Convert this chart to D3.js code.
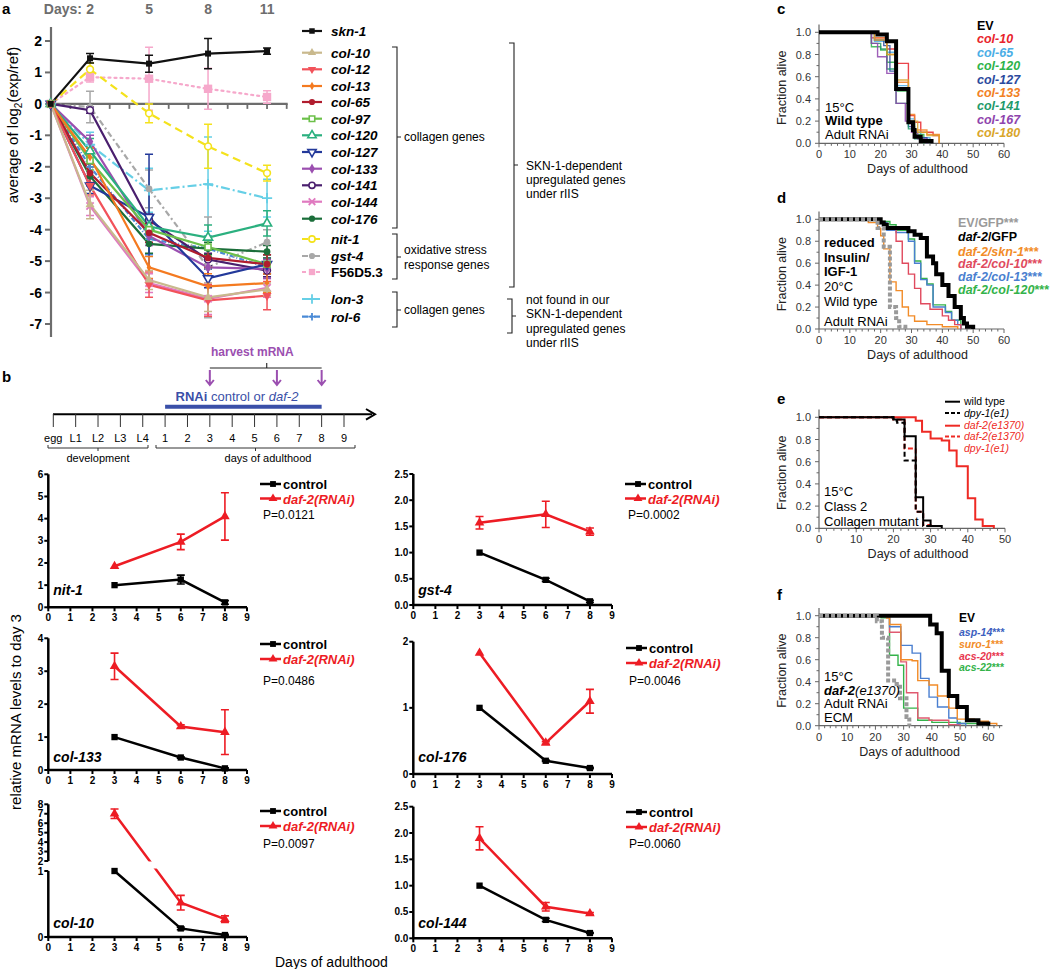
<!DOCTYPE html>
<html><head><meta charset="utf-8">
<script src="https://cdn.jsdelivr.net/npm/d3@7"></script>
<style>body{margin:0;background:#fff}svg{font-family:"Liberation Sans",Arial,Helvetica,sans-serif;display:block}</style>
</head><body><svg id="fig" width="1050" height="969"></svg>
<script>
// ======================= DATA =======================
// Panel a
const aDays = [0, 2, 5, 8, 11];
const aTopDays = [2, 5, 8, 11];
const aGenes = ["skn-1","col-10","col-12","col-13","col-65","col-97","col-120","col-127","col-133","col-141","col-144","col-176","nit-1","gst-4","F56D5.3","lon-3","rol-6"];
const aMeans = [
  [0, 1.45, 1.28, 1.6, 1.68],
  [0, -3.2, -5.6, -6.15, -5.9],
  [0, -2.6, -5.75, -6.25, -6.1],
  [0, -1.7, -5.2, -5.8, -5.7],
  [0, -2.2, -4.1, -4.9, -5.1],
  [0, -1.8, -4.0, -4.55, -5.1],
  [0, -1.5, -3.9, -4.25, -3.8],
  [0, -2.6, -3.6, -5.55, -5.1],
  [0, -1.2, -4.2, -5.2, -5.25],
  [0, -0.2, -3.7, -4.95, -5.3],
  [0, -3.25, -5.7, -6.2, -5.85],
  [0, -2.3, -4.45, -4.6, -4.7],
  [0, 1.1, -0.3, -1.35, -2.2],
  [0, -0.1, -2.7, -5.2, -4.4],
  [0, 0.85, 0.8, 0.48, 0.22],
  [0, -1.3, -2.75, -2.55, -3.0],
  [0, -2.0, -4.3, -4.6, -5.2]
];
const aErrs = [
  [0, 0.15, 0.27, 0.48, 0.1],
  [0, 0.45, 0.3, 0.45, 0.2],
  [0, 0.3, 0.4, 0.5, 0.45],
  [0, 0.3, 0.35, 0.4, 0.3],
  [0, 0.3, 0.3, 0.3, 0.3],
  [0, 0.3, 0.3, 0.3, 0.3],
  [0, 0.4, 0.25, 0.4, 0.4],
  [0, 0.25, 2.0, 0.3, 0.3],
  [0, 0.2, 0.3, 0.3, 0.3],
  [0, 0.1, 0.2, 0.2, 0.2],
  [0, 0.3, 0.3, 0.5, 0.3],
  [0, 0.3, 0.3, 0.2, 0.2],
  [0, 0.2, 0.3, 0.7, 0.25],
  [0, 0.5, 0.6, 1.6, 0.4],
  [0, 0.15, 1.0, 0.65, 0.2],
  [0, 0.4, 0.7, 1.5, 0.6],
  [0, 0.3, 0.5, 0.4, 0.3]
];
const aYTicks = [2, 1, 0, -1, -2, -3, -4, -5, -6, -7];

// Panel b schematic
const bStages = ["egg","L1","L2","L3","L4","1","2","3","4","5","6","7","8","9"];
const bHarvest = ["3","6","8"];
const bRnaiRange = ["1","8"];

// Panel b qPCR
const bDays = [3, 6, 8];
const bXTicks = [0,1,2,3,4,5,6,7,8,9];
const nit1Ctrl = [1.0, 1.25, 0.22], nit1CtrlErr = [0, 0.2, 0.08];
const nit1Daf = [1.85, 2.95, 4.1],  nit1DafErr = [0, 0.35, 1.07];
const gst4Ctrl = [1.0, 0.48, 0.07], gst4CtrlErr = [0, 0.03, 0.02];
const gst4Daf = [1.57, 1.73, 1.4],  gst4DafErr = [0.12, 0.25, 0.07];
const col133Ctrl = [1.0, 0.38, 0.05], col133CtrlErr = [0, 0.02, 0.02];
const col133Daf = [3.15, 1.32, 1.15], col133DafErr = [0.4, 0.05, 0.68];
const col176Ctrl = [1.0, 0.2, 0.09], col176CtrlErr = [0, 0.01, 0.01];
const col176Daf = [1.83, 0.47, 1.1], col176DafErr = [0, 0.02, 0.18];
const col10Ctrl = [1.0, 0.13, 0.03], col10CtrlErr = [0, 0.02, 0.01];
const col10Daf = [7.0, 0.52, 0.27],  col10DafErr = [0.5, 0.11, 0.05];
const col144Ctrl = [1.0, 0.35, 0.1], col144CtrlErr = [0, 0.03, 0.01];
const col144Daf = [1.9, 0.6, 0.47],  col144DafErr = [0.22, 0.08, 0.02];
const pVals = ["P=0.0121","P=0.0002","P=0.0486","P=0.0046","P=0.0097","P=0.0060"];

// Survival curves [day, fraction alive]
const survYTicks = [0, 0.2, 0.4, 0.6, 0.8, 1.0];
const cNames = ["EV","col-10","col-65","col-120","col-127","col-133","col-141","col-167","col-180"];
const cEV     = [[0,1],[19,0.98],[22,0.92],[25,0.49],[29,0.19],[30.5,0.12],[31,0.06],[33,0.02],[36.5,0]];
const cCol10  = [[0,1],[17,0.95],[22,0.85],[25,0.72],[29,0.25],[31,0.19],[33,0.1],[37,0.07],[39,0]];
const cCol65  = [[0,1],[18,0.92],[22,0.82],[25,0.52],[29,0.22],[31,0.1],[33,0.05],[36,0]];
const cCol120 = [[0,1],[17,0.87],[20,0.84],[22,0.73],[25,0.47],[29,0.2],[31,0.08],[34,0]];
const cCol127 = [[0,1],[18,0.93],[21,0.88],[23,0.65],[25,0.5],[29,0.15],[31,0.05],[35,0]];
const cCol133 = [[0,1],[18,0.95],[22,0.8],[25,0.55],[29,0.26],[31,0.12],[35,0.08],[39,0]];
const cCol141 = [[0,1],[17,0.9],[20,0.85],[22,0.67],[25,0.36],[29,0.13],[31,0.04],[34,0]];
const cCol167 = [[0,1],[17,0.9],[19,0.78],[22,0.63],[25,0.36],[28,0.2],[30,0.1],[32,0.04],[35,0]];
const cCol180 = [[0,1],[18,0.93],[22,0.8],[25,0.57],[29,0.2],[32,0.1],[35,0.07],[39,0]];

const dNames = ["EV/GFP***","daf-2/GFP","daf-2/skn-1***","daf-2/col-10***","daf-2/col-13***","daf-2/col-120***"];
const dEV     = [[0,1],[19,0.92],[21,0.75],[23,0.2],[25,0.1],[26,0.02],[28,0]];
const dDaf2   = [[0,1],[20,0.97],[21,0.95],[22,0.92],[29,0.89],[31,0.86],[33,0.83],[35,0.66],[37,0.6],[38,0.5],[40,0.4],[42,0.3],[44,0.2],[46,0.1],[47,0.05],[48,0.02],[50,0]];
const dSkn1   = [[0,1],[16,0.97],[19,0.92],[20,0.85],[21,0.73],[23,0.43],[25,0.35],[27,0.2],[29,0.12],[31,0.07],[35,0.04],[40,0.02],[45,0]];
const dCol10  = [[0,1],[19,0.97],[21,0.92],[25,0.8],[27,0.6],[29,0.5],[31,0.37],[33,0.23],[36,0.18],[40,0.12],[42,0.08],[44,0.04],[46,0]];
const dCol13  = [[0,1],[20,0.97],[22,0.9],[25,0.88],[29,0.8],[31,0.6],[33,0.45],[35,0.4],[37,0.2],[41,0.15],[43,0.08],[45,0.04],[46,0]];
const dCol120 = [[0,1],[20,0.98],[23,0.95],[25,0.9],[29,0.82],[31,0.62],[33,0.46],[35,0.41],[37,0.22],[41,0.16],[43,0.08],[46,0]];

const eNames = ["wild type","dpy-1(e1)","daf-2(e1370)","daf-2(e1370)","dpy-1(e1)"];
const eWT     = [[0,1],[20,0.98],[23,0.83],[26,0.28],[28,0.07],[30,0.02],[33,0]];
const eDpy    = [[0,1],[20,0.97],[21,0.95],[23,0.61],[26,0.15],[28,0.02],[30,0]];
const eDaf2   = [[0,1],[26,0.97],[27.7,0.87],[30,0.81],[33,0.79],[35,0.7],[37,0.56],[40,0.27],[42,0.08],[44,0.02],[47,0]];
const eDafDpy = [[0,1],[20,0.98],[23,0.72],[26,0.15],[28,0.03],[30,0]];

const fNames = ["EV","asp-14***","suro-1***","acs-20***","acs-22***"];
const fGray   = [[0,1],[20.5,0.95],[22.3,0.8],[24.5,0.41],[27.5,0.38],[28.7,0.25],[31,0.08],[32,0]];
const fEV     = [[0,1],[39.4,0.92],[41.7,0.84],[43.5,0.5],[46,0.27],[49,0.17],[52.4,0.05],[56.5,0.02],[60,0]];
const fAsp14  = [[0,1],[25,0.9],[29,0.73],[33,0.66],[36,0.43],[39,0.26],[42,0.17],[46,0.07],[49,0.02],[52,0]];
const fSuro1  = [[0,1],[24,0.98],[25,0.92],[29,0.6],[33,0.59],[35,0.41],[39,0.37],[42,0.27],[46,0.16],[49,0.06],[55,0.04],[60,0.02],[63,0]];
const fAcs20  = [[0,1],[24,0.98],[25,0.85],[29,0.58],[31,0.3],[35,0.07],[39,0.05],[46,0.01],[50,0]];
const fAcs22  = [[0,1],[22,0.98],[25,0.64],[28,0.55],[30,0.16],[35,0.05],[40,0.03],[50,0.02],[60,0]];

// ======================= DRAWING =======================
const svg = d3.select("#fig");
function T(g, x, y, s, o = {}) {
  return g.append("text").attr("x", x).attr("y", y).text(s)
    .attr("font-size", o.size || 12).attr("font-weight", o.weight || "normal")
    .attr("font-style", o.style || "normal").attr("fill", o.fill || "#000")
    .attr("text-anchor", o.anchor || "start");
}
function R(g, x, y, parts, o = {}) {
  const t = g.append("text").attr("x", x).attr("y", y).attr("font-size", o.size || 12)
    .attr("text-anchor", o.anchor || "start");
  parts.forEach(p => t.append("tspan").text(p[0]).attr("font-weight", p[1] || "normal")
    .attr("font-style", p[2] || "normal").attr("fill", p[3] || o.fill || "#000"));
  return t;
}
function panelLetter(x, y, s) { T(svg, x, y, s, {size: 15, weight: "bold"}); }

// ---------------- Panel a ----------------
(function () {
  const g = svg.append("g");
  panelLetter(2, 14, "a");
  const x = d3.scaleLinear().domain([0, 12]).range([50.7, 286.7]);
  const y = d3.scaleLinear().domain([2, -7]).range([41, 324]);
  const axc = "#6d6d6d";
  g.append("line").attr("x1", 51).attr("x2", 51).attr("y1", 27).attr("y2", 337).attr("stroke", axc).attr("stroke-width", 2.2);
  g.append("line").attr("x1", 50).attr("x2", x(12.05)).attr("y1", y(0)).attr("y2", y(0)).attr("stroke", axc).attr("stroke-width", 2.2);
  aYTicks.forEach(v => {
    g.append("line").attr("x1", 45).attr("x2", 51).attr("y1", y(v)).attr("y2", y(v)).attr("stroke", axc).attr("stroke-width", 2);
    T(g, 42, y(v) + 5, v, {size: 14, weight: "bold", anchor: "end"});
  });
  d3.range(1, 13).forEach(d => {
    g.append("line").attr("x1", x(d)).attr("x2", x(d)).attr("y1", y(0)).attr("y2", y(0) + 5).attr("stroke", axc).attr("stroke-width", 1.8);
  });
  T(g, 82, 14, "Days:", {size: 14, weight: "bold", fill: "#6d6d6d", anchor: "end"});
  aTopDays.forEach(d => T(g, x(d), 14, d, {size: 14, weight: "bold", fill: "#6d6d6d", anchor: "middle"}));
  g.append("text").attr("transform", "translate(18,125) rotate(-90)").attr("text-anchor", "middle")
    .attr("font-size", 15).call(t => {
      t.append("tspan").text("average of log");
      t.append("tspan").text("2").attr("font-size", 10).attr("dy", 4);
      t.append("tspan").text("(exp/ref)").attr("dy", -4);
    });

  const styles = [
    {c: "#111111", d: null, s: "square", f: true},
    {c: "#c9b98d", d: null, s: "triangle", f: true},
    {c: "#f2525a", d: null, s: "tridown", f: true},
    {c: "#f47a20", d: null, s: "diamond", f: true, sz: 20},
    {c: "#b01c2e", d: null, s: "circle", f: true},
    {c: "#6cc04a", d: null, s: "square", f: false},
    {c: "#2bb07f", d: null, s: "triangle", f: false},
    {c: "#23399a", d: null, s: "tridown", f: false},
    {c: "#9b4fb0", d: null, s: "diamond", f: true},
    {c: "#4a1f6e", d: null, s: "circle", f: false},
    {c: "#e07ac0", d: null, s: "times", f: false},
    {c: "#1b6e3a", d: null, s: "circle", f: true},
    {c: "#f4e21c", d: "8,5", s: "circle", f: false},
    {c: "#a8a8a8", d: "6,3,2,3", s: "circle", f: true},
    {c: "#f6a8cb", d: "2,4", s: "square", f: true, sz: 70},
    {c: "#66cfe6", d: "9,3,2,3", s: "plus", f: false},
    {c: "#4a8ad6", d: "5,2,1,2", s: "plus", f: false, sz: 20}
  ];
  const symMap = {square: d3.symbolSquare, triangle: d3.symbolTriangle, tridown: d3.symbolTriangle,
    diamond: d3.symbolDiamond, circle: d3.symbolCircle, times: d3.symbolTimes, plus: d3.symbolPlus};
  function marker(gg, px, py, st) {
    const p = gg.append("path").attr("d", d3.symbol(symMap[st.s], st.sz || 36)())
      .attr("transform", `translate(${px},${py})` + (st.s === "tridown" ? " rotate(180)" : ""));
    if (st.s === "times" || st.s === "plus") p.attr("fill", "none").attr("stroke", st.c).attr("stroke-width", 1.8);
    else if (st.f) p.attr("fill", st.c);
    else p.attr("fill", "#fff").attr("stroke", st.c).attr("stroke-width", 1.6);
  }
  const line = d3.line().x((d, i) => x(aDays[i])).y(d => y(d));
  const order = d3.range(aGenes.length).reverse();
  order.forEach(k => {
    const st = styles[k];
    g.append("path").datum(aMeans[k]).attr("d", line).attr("fill", "none").attr("stroke", st.c)
      .attr("stroke-width", 2.2).attr("stroke-dasharray", st.d).attr("stroke-linecap", st.d === "2,4" ? "round" : "butt");
    aMeans[k].forEach((v, i) => {
      const e = aErrs[k][i];
      if (e > 0) {
        const xx = x(aDays[i]);
        g.append("path").attr("d", `M${xx},${y(v + e)}V${y(v - e)}M${xx - 4},${y(v + e)}H${xx + 4}M${xx - 4},${y(v - e)}H${xx + 4}`)
          .attr("stroke", st.c).attr("stroke-width", 1.5).attr("fill", "none");
      }
    });
  });
  order.forEach(k => aMeans[k].forEach((v, i) => marker(g, x(aDays[i]), y(v), styles[k])));

  const rows = [31, 52.7, 69.3, 86, 102, 118.7, 135.3, 152, 168.7, 185.3, 201.7, 218.7, 239, 256, 272, 299, 316.7];
  aGenes.forEach((nm, k) => {
    const st = styles[k], yy = rows[k];
    g.append("line").attr("x1", 302).attr("x2", 322).attr("y1", yy).attr("y2", yy).attr("stroke", st.c)
      .attr("stroke-width", 2.2).attr("stroke-dasharray", st.d ? (st.d === "2,4" ? "4,3" : "6,2,2,2") : null);
    marker(g, 312, yy, Object.assign({}, st, {sz: Math.min(st.sz || 30, 40)}));
    T(g, 331, yy + 5, nm, {size: 13.5, weight: "bold", style: nm === "F56D5.3" ? "normal" : "italic"});
  });
  function bracket(bx, y1, y2, ym, w) {
    g.append("path").attr("d", `M${bx - w},${y1}H${bx}V${y2}H${bx - w}M${bx},${ym}H${bx + 4}`)
      .attr("fill", "none").attr("stroke", "#222").attr("stroke-width", 1.1);
  }
  bracket(397, 47, 228, 137, 5); T(g, 404, 141, "collagen genes", {size: 12});
  bracket(397, 234, 279, 257, 5); T(g, 404, 254, "oxidative stress", {size: 12}); T(g, 404, 269, "response genes", {size: 12});
  bracket(397, 292, 327, 310, 5); T(g, 404, 314, "collagen genes", {size: 12});
  bracket(514, 43, 287, 165, 5);
  ["SKN-1-dependent", "upregulated genes", "under rIIS"].forEach((s, i) => T(g, 526, 170 + 14.2 * i, s, {size: 12}));
  bracket(512, 299, 333, 316, 5);
  ["not found in our", "SKN-1-dependent", "upregulated genes", "under rIIS"].forEach((s, i) => T(g, 526, 304 + 14.4 * i, s, {size: 12}));
})();

// ---------------- Panel b schematic ----------------
(function () {
  const g = svg.append("g");
  panelLetter(2, 382, "b");
  const xs = d3.scalePoint().domain(bStages).range([53.3, 344]);
  const purple = "#9b4fb0", blue = "#3a4fa8";
  T(g, 211, 356, "harvest mRNA", {size: 12, weight: "bold", fill: purple});
  const hx = bHarvest.map(d => xs(d));
  g.append("path").attr("d", `M${hx[0]},${368}H${hx[2]}M${(hx[0] + hx[2]) / 2 + 1},368V363`).attr("stroke", "#222").attr("stroke-width", 1.1).attr("fill", "none");
  hx.forEach(xx => {
    g.append("path").attr("d", `M${xx},370V385M${xx - 4},380L${xx},385L${xx + 4},380`).attr("stroke", purple)
      .attr("stroke-width", 2).attr("fill", "none");
  });
  R(g, 237, 401, [["RNAi", "bold"], [" control or "], ["daf-2", "normal", "italic"]], {size: 13, fill: blue, anchor: "middle"});
  g.append("line").attr("x1", xs(bRnaiRange[0])).attr("x2", xs(bRnaiRange[1])).attr("y1", 406.7).attr("y2", 406.7)
    .attr("stroke", blue).attr("stroke-width", 4);
  g.append("line").attr("x1", 53).attr("x2", 372).attr("y1", 414.3).attr("y2", 414.3).attr("stroke", "#000").attr("stroke-width", 2);
  g.append("path").attr("d", "M366,409L375,414.3L366,419.6").attr("stroke", "#000").attr("stroke-width", 2).attr("fill", "none");
  bStages.forEach(s => {
    g.append("line").attr("x1", xs(s)).attr("x2", xs(s)).attr("y1", 414).attr("y2", 427).attr("stroke", "#333").attr("stroke-width", 1);
    T(g, xs(s), 442, s, {size: 11, anchor: "middle"});
  });
  function brace(x1, x2) {
    const m = (x1 + x2) / 2;
    g.append("path").attr("d", `M${x1},445V448H${x2}V445M${m},448V451`).attr("stroke", "#333").attr("stroke-width", 1).attr("fill", "none");
  }
  brace(48, 148); brace(156, 355);
  T(g, 98, 462, "development", {size: 11, anchor: "middle"});
  T(g, 268, 462, "days of adulthood", {size: 11, anchor: "middle"});
})();

// ---------------- Panel b qPCR subplots ----------------
const RED = "#ed1c24";
function subplot(cfg) {
  const g = svg.append("g");
  const x = d3.scaleLinear().domain([0, 9]).range(cfg.xr);
  const yf = cfg.yf;
  const x0 = cfg.xr[0];
  cfg.segments.forEach(seg => {
    g.append("line").attr("x1", x0).attr("x2", x0).attr("y1", yf(seg.lo)).attr("y2", yf(seg.hi)).attr("stroke", "#000").attr("stroke-width", 2.5);
    seg.ticks.forEach(v => {
      g.append("line").attr("x1", x0 - 4).attr("x2", x0).attr("y1", yf(v)).attr("y2", yf(v)).attr("stroke", "#000").attr("stroke-width", 2);
      T(g, x0 - 5, yf(v) + 3.5, cfg.fmt ? cfg.fmt(v) : v, {size: 10, weight: "bold", anchor: "end"});
    });
  });
  const yb = yf(0);
  g.append("line").attr("x1", x0 - 1).attr("x2", x(9)).attr("y1", yb).attr("y2", yb).attr("stroke", "#000").attr("stroke-width", 2.5);
  bXTicks.forEach(d => {
    g.append("line").attr("x1", x(d)).attr("x2", x(d)).attr("y1", yb).attr("y2", yb + 4).attr("stroke", "#000").attr("stroke-width", 2);
    T(g, x(d), yb + 14, d, {size: 10, weight: "bold", anchor: "middle"});
  });
  const line = d3.line().x((d, i) => x(bDays[i])).y(d => yf(d));
  g.append("path").datum(cfg.ctrl).attr("d", line).attr("fill", "none").attr("stroke", "#000").attr("stroke-width", 2.5);
  g.append("path").datum(cfg.daf).attr("d", line).attr("fill", "none").attr("stroke", RED).attr("stroke-width", 2.5);
  if (cfg.band) g.append("rect").attr("x", x0 + 3).attr("width", x(9) - x0).attr("y", cfg.band[0]).attr("height", cfg.band[1] - cfg.band[0]).attr("fill", "#fff");
  function errs(vals, es, col) {
    vals.forEach((v, i) => {
      const e = es[i]; if (!e) return;
      const xx = x(bDays[i]);
      g.append("path").attr("d", `M${xx},${yf(v + e)}V${yf(v - e)}M${xx - 4},${yf(v + e)}H${xx + 4}M${xx - 4},${yf(v - e)}H${xx + 4}`)
        .attr("stroke", col).attr("stroke-width", 1.6).attr("fill", "none");
    });
  }
  errs(cfg.ctrl, cfg.ctrlErr, "#000"); errs(cfg.daf, cfg.dafErr, RED);
  cfg.ctrl.forEach((v, i) => g.append("path").attr("d", d3.symbol(d3.symbolSquare, 40)()).attr("transform", `translate(${x(bDays[i])},${yf(v)})`).attr("fill", "#000"));
  cfg.daf.forEach((v, i) => g.append("path").attr("d", d3.symbol(d3.symbolTriangle, 40)()).attr("transform", `translate(${x(bDays[i])},${yf(v)})`).attr("fill", RED));
  T(g, x0 + 5, cfg.labelY, cfg.gene, {size: 14, weight: "bold", style: "italic"});
  const lx = cfg.legX, ly = cfg.legY;
  g.append("line").attr("x1", lx).attr("x2", lx + 21).attr("y1", ly).attr("y2", ly).attr("stroke", "#000").attr("stroke-width", 2.5);
  g.append("path").attr("d", d3.symbol(d3.symbolSquare, 34)()).attr("transform", `translate(${lx + 13},${ly})`).attr("fill", "#000");
  T(g, lx + 23, ly + 5, "control", {size: 13, weight: "bold"});
  g.append("line").attr("x1", lx).attr("x2", lx + 21).attr("y1", ly + cfg.legDy).attr("y2", ly + cfg.legDy).attr("stroke", RED).attr("stroke-width", 2.5);
  g.append("path").attr("d", d3.symbol(d3.symbolTriangle, 34)()).attr("transform", `translate(${lx + 13},${ly + cfg.legDy})`).attr("fill", RED);
  T(g, lx + 23, ly + cfg.legDy + 5, "daf-2(RNAi)", {size: 13, weight: "bold", style: "italic", fill: RED});
  T(g, lx + 3, ly + cfg.pDy, cfg.p, {size: 12});
}
const XL = [48.3, 247], XR = [413.3, 612];
const f1 = d3.format(".1f");
function lin(d, r) { return d3.scaleLinear().domain(d).range(r); }
{
  const s = lin([0, 6], [607.3, 474.3]);
  subplot({xr: XL, yf: s, segments: [{lo: 0, hi: 6, ticks: [0,1,2,3,4,5,6]}], ctrl: nit1Ctrl, ctrlErr: nit1CtrlErr, daf: nit1Daf, dafErr: nit1DafErr,
    gene: "nit-1", labelY: 595, legX: 260, legY: 484, legDy: 14.5, pDy: 35, p: pVals[0]});
}
{
  const s = lin([0, 2.5], [605, 474]);
  subplot({xr: XR, yf: s, fmt: f1, segments: [{lo: 0, hi: 2.5, ticks: [0,0.5,1,1.5,2,2.5]}], ctrl: gst4Ctrl, ctrlErr: gst4CtrlErr, daf: gst4Daf, dafErr: gst4DafErr,
    gene: "gst-4", labelY: 595, legX: 625, legY: 484, legDy: 14.5, pDy: 35, p: pVals[1]});
}
{
  const s = lin([0, 4], [770, 638.3]);
  subplot({xr: XL, yf: s, segments: [{lo: 0, hi: 4, ticks: [0,1,2,3,4]}], ctrl: col133Ctrl, ctrlErr: col133CtrlErr, daf: col133Daf, dafErr: col133DafErr,
    gene: "col-133", labelY: 762, legX: 260, legY: 644, legDy: 15, pDy: 41, p: pVals[2]});
}
{
  const s = lin([0, 2], [774, 641.7]);
  subplot({xr: XR, yf: s, segments: [{lo: 0, hi: 2, ticks: [0,1,2]}], ctrl: col176Ctrl, ctrlErr: col176CtrlErr, daf: col176Daf, dafErr: col176DafErr,
    gene: "col-176", labelY: 762, legX: 626, legY: 648, legDy: 15, pDy: 37, p: pVals[3]});
}
{
  const lo = lin([0, 1], [937, 871]), up = lin([2, 8], [861, 804.3]);
  const s = v => (v >= 1.5 ? up(v) : lo(v));
  subplot({xr: XL, yf: s, segments: [{lo: 0, hi: 1, ticks: [0, 1]}, {lo: 2, hi: 8, ticks: [2,3,4,5,6,7,8]}], band: [861.5, 868.5],
    ctrl: col10Ctrl, ctrlErr: col10CtrlErr, daf: col10Daf, dafErr: col10DafErr,
    gene: "col-10", labelY: 928, legX: 260, legY: 811, legDy: 15, pDy: 37, p: pVals[4]});
}
{
  const s = lin([0, 2.5], [938.3, 806.7]);
  subplot({xr: XR, yf: s, fmt: f1, segments: [{lo: 0, hi: 2.5, ticks: [0,0.5,1,1.5,2,2.5]}], ctrl: col144Ctrl, ctrlErr: col144CtrlErr, daf: col144Daf, dafErr: col144DafErr,
    gene: "col-144", labelY: 928, legX: 626, legY: 812, legDy: 15, pDy: 36, p: pVals[5]});
}
svg.append("text").attr("transform", "translate(21,712) rotate(-90)").attr("text-anchor", "middle").attr("font-size", 15).text("relative mRNA levels to day 3");
T(svg, 275, 967, "Days of adulthood", {size: 14});

// ---------------- Survival panels ----------------
function survival(cfg) {
  const g = svg.append("g");
  const x = d3.scaleLinear().domain([0, cfg.xMax]).range([819, cfg.xR]);
  const y = d3.scaleLinear().domain([0, 1]).range([cfg.y0, cfg.y1]);
  const axc = "#666";
  g.append("line").attr("x1", 819).attr("x2", 819).attr("y1", y(0)).attr("y2", y(1.07)).attr("stroke", axc).attr("stroke-width", 1.2);
  g.append("line").attr("x1", 819).attr("x2", x(cfg.xEnd)).attr("y1", y(0)).attr("y2", y(0)).attr("stroke", axc).attr("stroke-width", 1.2);
  d3.range(0, 1.05, 0.1).forEach(v => {
    const major = Math.abs(v * 5 - Math.round(v * 5)) < 1e-6;
    g.append("line").attr("x1", 819 - (major ? 4 : 2.5)).attr("x2", 819).attr("y1", y(v)).attr("y2", y(v)).attr("stroke", axc);
  });
  survYTicks.forEach(v => T(g, 811, y(v) + 4, f1(v), {size: 11, fill: "#333", anchor: "end"}));
  d3.range(0, cfg.xEnd + 0.01, cfg.minor).forEach(d => {
    const major = d % 10 === 0;
    g.append("line").attr("x1", x(d)).attr("x2", x(d)).attr("y1", y(0)).attr("y2", y(0) + (major ? 4 : 2.5)).attr("stroke", axc);
    if (major && d <= cfg.xMax) T(g, x(d), y(0) + 15, d, {size: 11, fill: "#333", anchor: "middle"});
  });
  T(g, (819 + x(cfg.xMax)) / 2 + 6, y(0) + 30, "Days of adulthood", {size: 12.5, fill: "#222", anchor: "middle"});
  g.append("text").attr("transform", `translate(786,${(y(0) + y(1)) / 2}) rotate(-90)`).attr("text-anchor", "middle")
    .attr("font-size", 12.5).attr("fill", "#222").text("Fraction alive");
  const line = d3.line().curve(d3.curveStepAfter).x(d => x(d[0])).y(d => y(d[1]));
  cfg.curves.forEach(c => {
    g.append("path").datum(c.data).attr("d", line).attr("fill", "none").attr("stroke", c.color)
      .attr("stroke-width", c.w || 1.4).attr("stroke-dasharray", c.dash || null).attr("opacity", c.op || 1);
  });
  return g;
}
// c
{
  panelLetter(777, 14, "c");
  const cols = ["#000", "#e8242c", "#4aaee6", "#2db34a", "#2b4a9e", "#f28024", "#1f9a6a", "#8e44ad", "#d9a52a"];
  const data = [cEV, cCol10, cCol65, cCol120, cCol127, cCol133, cCol141, cCol167, cCol180];
  const curves = data.slice(1).map((d, i) => ({data: d, color: cols[i + 1], op: 0.85})).concat([{data: cEV, color: "#000", w: 4}]);
  const g = survival({xMax: 60, xR: 1004, xEnd: 60, minor: 2, y0: 143.3, y1: 32.3, curves});
  T(g, 825, 112, "15°C", {size: 13});
  T(g, 825, 125, "Wild type", {size: 13, weight: "bold"});
  T(g, 825, 139, "Adult RNAi", {size: 13});
  cNames.forEach((n, i) => T(g, 977, 30 + 13.4 * i, n, {size: 12.5, weight: "bold", style: i ? "italic" : "normal", fill: cols[i]}));
}
// d
{
  panelLetter(777, 203, "d");
  const cols = ["#9a9a9a", "#000", "#f28c28", "#e04a5e", "#4a7fd0", "#34b34a"];
  const curves = [
    {data: dSkn1, color: cols[2]}, {data: dCol120, color: cols[5]}, {data: dCol13, color: cols[4]},
    {data: dCol10, color: cols[3]}, {data: dDaf2, color: "#000", w: 4}, {data: dEV, color: "#9a9a9a", w: 4, dash: "4,2"}
  ];
  const g = survival({xMax: 60, xR: 1004, xEnd: 60, minor: 2, y0: 329, y1: 219.3, curves});
  T(g, 824, 247, "reduced", {size: 13, weight: "bold"});
  T(g, 824, 261.5, "Insulin/", {size: 13, weight: "bold"});
  T(g, 824, 276, "IGF-1", {size: 13, weight: "bold"});
  T(g, 824, 291, "20°C", {size: 13});
  T(g, 824, 305.5, "Wild type", {size: 13});
  T(g, 824, 326, "Adult RNAi", {size: 13});
  R(g, 958, 227, [["EV/GFP***", "bold", "normal", cols[0]]], {size: 12.5});
  R(g, 958, 241, [["daf-2", "bold", "italic", "#000"], ["/GFP", "bold", "normal", "#000"]], {size: 12.5});
  [2, 3, 4, 5].forEach((k, i) => {
    const [a] = dNames[k].split("***");
    R(g, 958, 255.5 + 12.8 * i, [[a, "bold", "italic", cols[k]], ["***", "bold", "normal", cols[k]]], {size: 12.5});
  });
}
// e
{
  panelLetter(777, 404, "e");
  const curves = [
    {data: eDaf2, color: "#ee2a24", w: 2}, {data: eDafDpy, color: "#ee2a24", w: 2, dash: "5,3"},
    {data: eWT, color: "#000", w: 2}, {data: eDpy, color: "#000", w: 2, dash: "5,3"}
  ];
  const g = survival({xMax: 50, xR: 1005, xEnd: 50, minor: 2, y0: 528.3, y1: 417.3, curves});
  T(g, 824, 496, "15°C", {size: 13});
  T(g, 824, 511, "Class 2", {size: 13});
  T(g, 824, 525.5, "Collagen mutant", {size: 13});
  const rows = [401.7, 413, 425.7, 436.5, 448];
  const lc = ["#000", "#000", "#ee2a24", "#ee2a24", "#ee2a24"];
  const ld = [null, "4,2", null, "4,2", "none"];
  eNames.forEach((n, i) => {
    if (ld[i] !== "none") g.append("line").attr("x1", 945).attr("x2", 960).attr("y1", rows[i]).attr("y2", rows[i]).attr("stroke", lc[i]).attr("stroke-width", 2).attr("stroke-dasharray", ld[i]);
    T(g, 964, rows[i] + 3.5, n, {size: 10.5, style: i ? "italic" : "normal", fill: lc[i]});
  });
}
// f
{
  panelLetter(777, 600, "f");
  const cols = ["#000", "#3d5fc0", "#f28c28", "#e8384f", "#34b34a"];
  const curves = [
    {data: fAcs22, color: "#34b34a"}, {data: fAcs20, color: "#e05a70"}, {data: fAsp14, color: "#4a7fd0"},
    {data: fSuro1, color: "#f28c28"}, {data: fEV, color: "#000", w: 4}, {data: fGray, color: "#9a9a9a", w: 4, dash: "4,2"}
  ];
  const g = survival({xMax: 60, xR: 988.3, xEnd: 65, minor: 2, y0: 725.7, y1: 615.7, curves});
  T(g, 824, 681, "15°C", {size: 13});
  R(g, 824, 694.5, [["daf-2", "bold", "italic"], ["(e1370)", "normal", "italic"]], {size: 13});
  T(g, 824, 708, "Adult RNAi", {size: 13});
  T(g, 824, 721.5, "ECM", {size: 13});
  T(g, 959, 622, fNames[0], {size: 12, weight: "bold"});
  [1, 2, 3, 4].forEach((k, i) => {
    const [a] = fNames[k].split("***");
    R(g, 959, 636 + 11.8 * i, [[a, "bold", "italic", cols[k]], ["***", "bold", "normal", cols[k]]], {size: 10.5});
  });
}
</script></body></html>
